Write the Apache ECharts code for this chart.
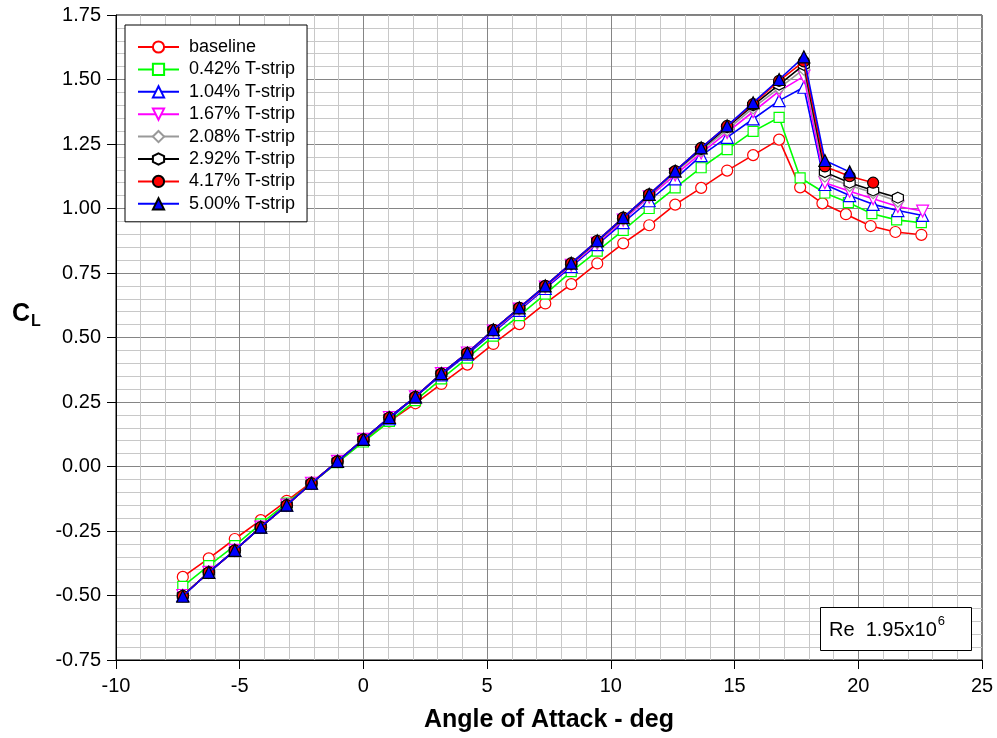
<!DOCTYPE html>
<html>
<head>
<meta charset="utf-8">
<script src="https://cdn.jsdelivr.net/npm/echarts@6/dist/echarts.min.js"></script>
<style>
  html, body { margin: 0; padding: 0; background: #fff; }
  #chart { width: 997px; height: 738px; }
</style>
</head>
<body>
<div id="chart"></div>
<script>
// Angle of attack (deg) for the attached-flow part of each run
var alphaRise = [-7.3, -6.25, -5.2, -4.15, -3.1, -2.1, -1.05, 0, 1.05, 2.1, 3.15, 4.2,
                 5.25, 6.3, 7.35, 8.4, 9.45, 10.5, 11.55, 12.6, 13.65, 14.7, 15.75, 16.8];

// Post-stall angles (deg)
var alphaStallA = [17.65, 18.55, 19.5, 20.5, 21.5, 22.55];   // baseline
var alphaStallB = [17.65, 18.65, 19.6, 20.55, 21.55, 22.55]; // 0.42%
var alphaStallC = [17.8, 18.65, 19.65, 20.6, 21.6, 22.6];    // 1.04%, 1.67%
var alphaStallD = [17.8, 18.65, 19.65, 20.6, 21.6];          // 2.08%, 2.92%
var alphaStallE = [17.8, 18.65, 19.65, 20.6];                // 4.17%
var alphaStallF = [17.8, 18.65, 19.65];                      // 5.00%

// Lift coefficient per run
var clBaseline = [-0.428, -0.356, -0.281, -0.208, -0.133, -0.062, 0.018, 0.098, 0.175, 0.245, 0.32, 0.395,
                  0.475, 0.552, 0.632, 0.707, 0.787, 0.865, 0.935, 1.015, 1.08, 1.147, 1.207, 1.267,
                  1.082, 1.02, 0.978, 0.932, 0.909, 0.898];
var clStrip042 = [-0.465, -0.384, -0.307, -0.222, -0.142, -0.065, 0.015, 0.095, 0.175, 0.255, 0.34, 0.42,
                  0.505, 0.585, 0.668, 0.755, 0.835, 0.915, 1.0, 1.08, 1.158, 1.228, 1.299, 1.353,
                  1.119, 1.06, 1.023, 0.98, 0.956, 0.945];
var clStrip104 = [-0.5, -0.41, -0.325, -0.235, -0.15, -0.065, 0.02, 0.105, 0.185, 0.27, 0.355, 0.435,
                  0.52, 0.605, 0.69, 0.775, 0.86, 0.945, 1.03, 1.115, 1.205, 1.276, 1.347, 1.418,
                  1.47, 1.093, 1.05, 1.016, 0.992, 0.973];
var clStrip167 = [-0.5, -0.41, -0.325, -0.235, -0.15, -0.065, 0.02, 0.105, 0.19, 0.27, 0.36, 0.44,
                  0.525, 0.61, 0.695, 0.78, 0.865, 0.955, 1.045, 1.13, 1.215, 1.295, 1.375, 1.455,
                  1.512, 1.1, 1.067, 1.038, 1.008, 0.99];
var clStrip208 = [-0.5, -0.41, -0.325, -0.235, -0.15, -0.065, 0.02, 0.105, 0.19, 0.27, 0.36, 0.44,
                  0.528, 0.612, 0.698, 0.784, 0.87, 0.96, 1.05, 1.14, 1.225, 1.305, 1.39, 1.467,
                  1.54, 1.125, 1.089, 1.061, 1.028];
var clStrip292 = [-0.5, -0.41, -0.325, -0.235, -0.15, -0.065, 0.02, 0.105, 0.19, 0.27, 0.36, 0.44,
                  0.53, 0.615, 0.7, 0.786, 0.873, 0.963, 1.053, 1.145, 1.23, 1.315, 1.4, 1.48,
                  1.557, 1.141, 1.1, 1.07, 1.042];
var clStrip417 = [-0.502, -0.41, -0.325, -0.235, -0.15, -0.065, 0.02, 0.105, 0.19, 0.27, 0.36, 0.44,
                  0.53, 0.615, 0.7, 0.788, 0.875, 0.965, 1.055, 1.145, 1.235, 1.32, 1.405, 1.495,
                  1.57, 1.163, 1.125, 1.1];
var clStrip500 = [-0.503, -0.41, -0.325, -0.235, -0.15, -0.065, 0.02, 0.105, 0.19, 0.27, 0.36, 0.44,
                  0.53, 0.615, 0.7, 0.788, 0.875, 0.965, 1.055, 1.145, 1.235, 1.32, 1.41, 1.5,
                  1.588, 1.186, 1.142];

var seriesNames = ['baseline', '0.42% T-strip', '1.04% T-strip', '1.67% T-strip',
                   '2.08% T-strip', '2.92% T-strip', '4.17% T-strip', '5.00% T-strip'];

var xTicks = { min: -10, max: 25, step: 5 };
var yTicks = { min: -0.75, max: 1.75, step: 0.25 };

var reynoldsText = 'Re  1.95x10';
var reynoldsExp = '6';

function pairs(alphas, cls) {
  return alphas.map(function (a, i) { return [a, cls[i]]; });
}

var hexagon = 'path://M5,0 L9.33,2.5 L9.33,7.5 L5,10 L0.67,7.5 L0.67,2.5 Z';

var runs = [
  { alpha: alphaRise.concat(alphaStallA), cl: clBaseline, color: '#ff0000', symbol: 'circle', fill: '#ffffff', border: '#ff0000', size: 11 },
  { alpha: alphaRise.concat(alphaStallB), cl: clStrip042, color: '#00ff00', symbol: 'rect', fill: '#ffffff', border: '#00ff00', size: 10 },
  { alpha: alphaRise.concat(alphaStallC), cl: clStrip104, color: '#0000ff', symbol: 'triangle', fill: '#ffffff', border: '#0000ff', size: 12 },
  { alpha: alphaRise.concat(alphaStallC), cl: clStrip167, color: '#ff00ff', symbol: 'triangle', rotate: 180, fill: '#ffffff', border: '#ff00ff', size: 12 },
  { alpha: alphaRise.concat(alphaStallD), cl: clStrip208, color: '#999999', symbol: 'diamond', fill: '#ffffff', border: '#999999', size: 12 },
  { alpha: alphaRise.concat(alphaStallD), cl: clStrip292, color: '#000000', symbol: hexagon, fill: '#ffffff', border: '#000000', size: 11 },
  { alpha: alphaRise.concat(alphaStallE), cl: clStrip417, color: '#ff0000', symbol: 'circle', fill: '#ff0000', border: '#000000', size: 11 },
  { alpha: alphaRise.concat(alphaStallF), cl: clStrip500, color: '#0000ff', symbol: 'triangle', fill: '#0000ff', border: '#000000', size: 12 }
];

var font = 'Arial, "Liberation Sans", sans-serif';

// width of the Reynolds number text, so the exponent sits right after it
var measureCtx = document.createElement('canvas').getContext('2d');
measureCtx.font = '20px ' + font;
var reWidth = measureCtx.measureText(reynoldsText).width;

var chart = echarts.init(document.getElementById('chart'), null, { renderer: 'canvas' });

var option = {
  animation: false,
  backgroundColor: '#ffffff',
  grid: {
    left: 116, right: 15, top: 15, bottom: 76,
    show: true, borderColor: '#000000', borderWidth: 1, backgroundColor: 'transparent'
  },
  xAxis: {
    type: 'value',
    min: xTicks.min, max: xTicks.max, interval: xTicks.step,
    axisLine: { show: true, onZero: false, lineStyle: { color: '#000', width: 1 } },
    axisTick: { show: true, inside: false, length: 9, lineStyle: { color: '#000' } },
    axisLabel: { color: '#000', fontSize: 20, fontFamily: font, margin: 16 },
    splitLine: { show: true, lineStyle: { color: '#858585', width: 1 } },
    minorTick: { show: false, splitNumber: 5 },
    minorSplitLine: { show: true, lineStyle: { color: '#c8c8c8', width: 1 } },
    name: 'Angle of Attack - deg',
    nameLocation: 'middle',
    nameGap: 48,
    nameTextStyle: { color: '#000', fontSize: 25, fontWeight: 'bold', fontFamily: font }
  },
  yAxis: {
    type: 'value',
    min: yTicks.min, max: yTicks.max, interval: yTicks.step,
    axisLine: { show: true, onZero: false, lineStyle: { color: '#000', width: 1 } },
    axisTick: { show: true, inside: false, length: 9, lineStyle: { color: '#000' } },
    axisLabel: {
      color: '#000', fontSize: 20, fontFamily: font, margin: 15,
      formatter: function (v) { return v.toFixed(2); }
    },
    splitLine: { show: true, lineStyle: { color: '#858585', width: 1 } },
    minorTick: { show: false, splitNumber: 5 },
    minorSplitLine: { show: true, lineStyle: { color: '#c8c8c8', width: 1 } }
  },
  legend: {
    orient: 'vertical',
    left: 125, top: 25,
    padding: [13, 12, 9, 12],
    itemWidth: 41, itemHeight: 14, itemGap: 4.4,
    backgroundColor: '#ffffff',
    borderColor: '#000000', borderWidth: 1,
    textStyle: { color: '#000', fontSize: 18, fontFamily: font, padding: [0, 0, 0, 5] },
    data: seriesNames
  },
  series: runs.map(function (r, i) {
    return {
      name: seriesNames[i],
      type: 'line',
      data: pairs(r.alpha, r.cl),
      symbol: r.symbol,
      symbolSize: r.size,
      symbolRotate: r.rotate || 0,
      showAllSymbol: true,
      lineStyle: { color: r.color, width: 1.6 },
      itemStyle: { color: r.fill, borderColor: r.border, borderWidth: 1.2 },
      z: 2 + i
    };
  }),
  graphic: [
    {
      type: 'text',
      left: 12, top: 302,
      style: {
        text: '{c|C}{l|L}',
        rich: {
          c: { fontSize: 25, fontWeight: 'bold', fontFamily: font, fill: '#000' },
          l: { fontSize: 16, fontWeight: 'bold', fontFamily: font, fill: '#000', padding: [14, 0, 0, 1] }
        }
      }
    },
    {
      type: 'group',
      left: 820, top: 607,
      z: 100,
      children: [
        { type: 'rect', z: 100, shape: { x: 0.5, y: 0.5, width: 151, height: 43 },
          style: { fill: '#ffffff', stroke: '#000000', lineWidth: 1 } },
        { type: 'text', z: 101, x: 9, y: 13,
          style: { text: reynoldsText, fontSize: 20, fontFamily: font, fill: '#000' } },
        { type: 'text', z: 101, x: 9 + reWidth + 1, y: 8,
          style: { text: reynoldsExp, fontSize: 13, fontFamily: font, fill: '#000' } }
      ]
    }
  ]
};

chart.setOption(option);
</script>
</body>
</html>
